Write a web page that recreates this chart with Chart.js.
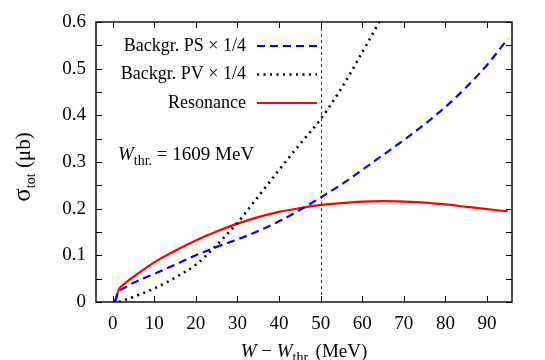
<!DOCTYPE html>
<html>
<head>
<meta charset="utf-8">
<script src="https://cdn.jsdelivr.net/npm/chart.js@4/dist/chart.umd.min.js"></script>
<style>
html,body{margin:0;padding:0;background:#fff;}
#wrap{width:545px;height:360px;}
</style>
</head>
<body>
<div id="wrap"><canvas id="c" width="545" height="360"></canvas></div>
<script>
// ---- data ----
const wValues   = [0.5, 1.5, 3, 5, 7.5, 10, 15, 20, 25, 30, 35, 40, 45, 50, 55, 60, 65, 70, 75, 80, 85, 90, 95];
const psValues  = [0, 0.022, 0.031, 0.041, 0.051, 0.06, 0.08, 0.1, 0.118, 0.134, 0.152, 0.173, 0.197, 0.224, 0.252, 0.283, 0.315, 0.347, 0.381, 0.418, 0.46, 0.508, 0.564];
const resValues = [0, 0.027, 0.04, 0.054, 0.07, 0.085, 0.11, 0.132, 0.151, 0.168, 0.182, 0.193, 0.201, 0.208, 0.212, 0.215, 0.216, 0.215, 0.213, 0.209, 0.204, 0.199, 0.194];
const pvW       = [1.5, 5, 10, 15, 20, 25, 30, 35, 40, 45, 50, 55, 60, 65];
const pvValues  = [0, 0.011, 0.029, 0.052, 0.08, 0.122, 0.17, 0.226, 0.283, 0.338, 0.392, 0.458, 0.535, 0.615];
const xTicks    = [0, 10, 20, 30, 40, 50, 60, 70, 80, 90];
const yTicks    = [0, 0.1, 0.2, 0.3, 0.4, 0.5, 0.6];
const yMinorTicks = [0, 0.05, 0.1, 0.15, 0.2, 0.25, 0.3, 0.35, 0.4, 0.45, 0.5, 0.55, 0.6];
const thresholdLine = 50;
const legendLabels = ['Backgr. PS \u00d7 1/4', 'Backgr. PV \u00d7 1/4', 'Resonance'];

const FONT = '"Liberation Serif", "DejaVu Serif", serif';
const FS = 19;

const pts = (xs, ys) => xs.map((x, i) => ({x: x, y: ys[i]}));

const framePlugin = {
  id: 'frame',
  beforeDatasetsDraw(chart) {
    const {ctx, chartArea: a, scales: {x}} = chart;
    const px = Math.round(x.getPixelForValue(thresholdLine)) + 0.5;
    ctx.save();
    ctx.strokeStyle = '#000';
    ctx.lineWidth = 0.8;
    ctx.setLineDash([3, 3]);
    ctx.beginPath();
    ctx.moveTo(px, a.top);
    ctx.lineTo(px, a.bottom);
    ctx.stroke();
    ctx.restore();
  },
  afterDraw(chart) {
    const {ctx, chartArea: a, scales: {x, y}} = chart;
    ctx.save();
    ctx.strokeStyle = '#000';
    ctx.lineWidth = 1.4;
    ctx.setLineDash([]);
    ctx.strokeRect(a.left, a.top, a.right - a.left, a.bottom - a.top);
    const tl = 6;
    ctx.lineWidth = 1;
    ctx.beginPath();
    xTicks.forEach(v => {
      const p = Math.round(x.getPixelForValue(v)) + 0.5;
      ctx.moveTo(p, a.bottom); ctx.lineTo(p, a.bottom - tl);
      ctx.moveTo(p, a.top); ctx.lineTo(p, a.top + tl);
    });
    yMinorTicks.forEach(v => {
      const p = Math.round(y.getPixelForValue(v)) + 0.5;
      ctx.moveTo(a.left, p); ctx.lineTo(a.left + tl, p);
      ctx.moveTo(a.right, p); ctx.lineTo(a.right - tl, p);
    });
    ctx.stroke();

    // legend
    const rows = [
      {label: legendLabels[0], color: '#0000ff', dash: [8, 5], w: 2.2},
      {label: legendLabels[1], color: '#000000', dash: [2, 4.5], w: 2.6},
      {label: legendLabels[2], color: '#ff0000', dash: [], w: 2.2}
    ];
    ctx.font = '18px ' + FONT;
    ctx.fillStyle = '#000';
    ctx.textAlign = 'right';
    ctx.textBaseline = 'middle';
    rows.forEach((r, i) => {
      const yy = 46 + i * 28.5;
      ctx.fillText(r.label, 246, yy);
      ctx.save();
      ctx.strokeStyle = r.color;
      ctx.lineWidth = r.w;
      ctx.setLineDash(r.dash);
      ctx.beginPath();
      ctx.moveTo(257, yy);
      ctx.lineTo(317, yy);
      ctx.stroke();
      ctx.restore();
    });

    // W_thr annotation
    ctx.textAlign = 'left';
    ctx.textBaseline = 'alphabetic';
    let xx = 118, base = 160;
    ctx.font = 'italic ' + FS + 'px ' + FONT;
    ctx.fillText('W', xx, base);
    xx += ctx.measureText('W').width;
    ctx.font = '14px ' + FONT;
    ctx.fillText('thr.', xx, base + 5);
    xx += ctx.measureText('thr.').width;
    ctx.font = FS + 'px ' + FONT;
    ctx.fillText(' = 1609 MeV', xx, base);

    // x title
    const parts = [
      {t: 'W', f: 'italic ' + FS + 'px ' + FONT, dy: 0},
      {t: ' \u2212 ', f: FS + 'px ' + FONT, dy: 0},
      {t: 'W', f: 'italic ' + FS + 'px ' + FONT, dy: 0},
      {t: 'thr.', f: '14px ' + FONT, dy: 5},
      {t: ' (MeV)', f: FS + 'px ' + FONT, dy: 0}
    ];
    let tw = 0;
    parts.forEach(p => { ctx.font = p.f; tw += ctx.measureText(p.t).width; });
    xx = (a.left + a.right) / 2 - tw / 2;
    base = 357;
    parts.forEach(p => { ctx.font = p.f; ctx.fillText(p.t, xx, base + p.dy); xx += ctx.measureText(p.t).width; });

    // y title (rotated)
    ctx.save();
    ctx.translate(30, (a.top + a.bottom) / 2 + 5);
    ctx.rotate(-Math.PI / 2);
    const yparts = [
      {t: '\u03c3', f: '25px ' + FONT, dy: 0},
      {t: 'tot', f: '14px ' + FONT, dy: 5},
      {t: ' (\u03bcb)', f: '21px ' + FONT, dy: 0}
    ];
    tw = 0;
    yparts.forEach(p => { ctx.font = p.f; tw += ctx.measureText(p.t).width; });
    xx = -tw / 2;
    yparts.forEach(p => { ctx.font = p.f; ctx.fillText(p.t, xx, p.dy); xx += ctx.measureText(p.t).width; });
    ctx.restore();

    ctx.restore();
  }
};

new Chart(document.getElementById('c'), {
  type: 'line',
  data: {
    datasets: [
      {label: legendLabels[0], data: pts(wValues, psValues), borderColor: '#0000ff', borderWidth: 2.2, borderDash: [8, 5], pointRadius: 0, fill: false, cubicInterpolationMode: 'monotone', clip: 0},
      {label: legendLabels[1], data: pts(pvW, pvValues), borderColor: '#000000', borderWidth: 2.6, borderDash: [2, 4.5], pointRadius: 0, fill: false, cubicInterpolationMode: 'monotone', clip: 0},
      {label: legendLabels[2], data: pts(wValues, resValues), borderColor: '#ff0000', borderWidth: 2.2, pointRadius: 0, fill: false, cubicInterpolationMode: 'monotone', clip: 0}
    ]
  },
  options: {
    responsive: false,
    animation: false,
    devicePixelRatio: 1,
    layout: {padding: {left: 0, right: 33, top: 22, bottom: 0}},
    plugins: {legend: {display: false}, tooltip: {enabled: false}},
    scales: {
      x: {
        type: 'linear', min: -4, max: 96,
        grid: {display: false, drawTicks: false},
        border: {display: false},
        afterBuildTicks: s => { s.ticks = xTicks.map(v => ({value: v})); },
        afterFit: s => { s.height = 58; },
        ticks: {color: '#000', font: {family: FONT, size: FS}, padding: 11, maxRotation: 0, autoSkip: false}
      },
      y: {
        type: 'linear', min: 0, max: 0.6,
        grid: {display: false, drawTicks: false},
        border: {display: false},
        afterBuildTicks: s => { s.ticks = yTicks.map(v => ({value: v})); },
        afterFit: s => { s.width = 96; },
        ticks: {color: '#000', font: {family: FONT, size: FS}, padding: 10, callback: v => String(Math.round(v * 10) / 10)}
      }
    }
  },
  plugins: [framePlugin]
});
</script>
</body>
</html>
